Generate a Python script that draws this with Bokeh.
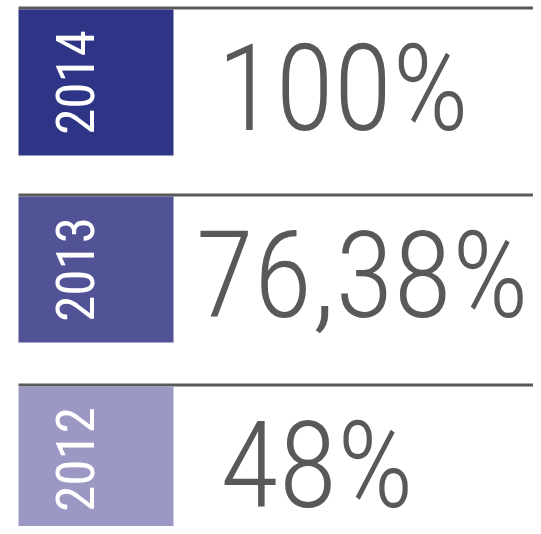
import math
from bokeh.plotting import figure
from bokeh.embed import file_html
from bokeh.resources import INLINE
from bokeh.core.properties import value
from bokeh.models import ColumnDataSource

# ---- data ----
years = ["2014", "2013", "2012"]
shares = ["100%", "76,38%", "48%"]
box_colors = ["#2e3586", "#525296", "#9c98c4"]

# ---- layout constants (pixel space) ----
row_tops = [6, 193, 383]
rule_h = 3
box_h = 146
box_left, box_right = 18, 173
rule_right = 541
pct_centers = [342.5, 361.5, 316.5]
pct_top_off = 12
year_x = 55

src = ColumnDataSource(dict(
    year=years,
    share=shares,
    color=box_colors,
    rule_top=[t for t in row_tops],
    rule_bot=[t + rule_h for t in row_tops],
    box_top=[t + rule_h for t in row_tops],
    box_bot=[t + rule_h + box_h for t in row_tops],
    box_mid=[t + rule_h + box_h / 2 for t in row_tops],
    pct_x=pct_centers,
    pct_y=[t + pct_top_off for t in row_tops],
))

p = figure(width=533, height=526, output_backend="svg", toolbar_location=None,
           x_range=(0, 533), y_range=(526, 0), min_border=0)
p.axis.visible = False
p.grid.visible = False
p.outline_line_color = None
p.background_fill_color = "white"

p.quad(left=box_left, right=rule_right, top="rule_top", bottom="rule_bot",
       source=src, fill_color="#58595b", line_color=None)
p.quad(left=box_left, right=box_right, top="box_top", bottom="box_bot",
       source=src, fill_color="color", line_color=None)

p.text(x=year_x, y="box_mid", text="year", source=src, angle=math.pi / 2,
       text_align="center", text_baseline="top",
       text_font=value("Roboto Condensed"), text_font_size="53px",
       text_color="white")

p.text(x="pct_x", y="pct_y", text="share", source=src,
       text_align="center", text_baseline="top",
       text_font=value("Roboto Condensed Light"), text_font_size="120px",
       text_color="#58595b")

open("out.html", "w").write(file_html(p, INLINE))
